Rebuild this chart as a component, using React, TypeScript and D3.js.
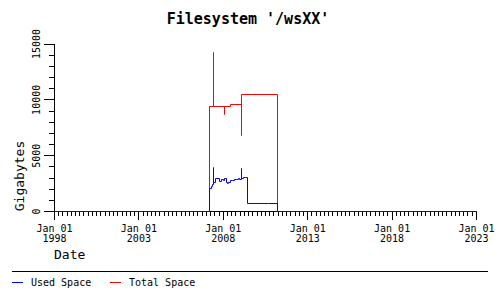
import React from "react";
import * as d3 from "d3";

const usedDates = [
  "1998-01-01", "2007-03-06", "2007-04-12", "2007-05-05", "2007-06-03", "2007-06-12",
  "2007-07-20", "2007-10-04", "2007-11-28", "2007-12-28", "2008-01-26", "2008-03-03",
  "2008-04-05", "2008-04-27", "2008-05-29", "2008-07-12", "2008-08-25", "2008-10-05",
  "2008-11-18", "2008-12-20", "2009-01-22", "2009-01-30", "2009-03-18", "2009-04-20",
  "2009-06-17", "2010-09-05", "2010-09-12", "2011-03-17", "2023-01-01",
];
const usedValues = [
  0, 2050, 2200, 2450, 3950, 2630,
  2930, 2720, 2870, 2780, 2930, 2630,
  2510, 2600, 2750, 2780, 2870, 2900,
  2950, 2900, 3860, 2960, 3050, 3080,
  680, 760, 680, 0, 0,
];

const totalDates = [
  "1998-01-01", "2007-03-06", "2007-06-03", "2007-06-12", "2008-01-26", "2008-02-03",
  "2008-05-29", "2009-01-22", "2009-01-30", "2011-03-17", "2023-01-01",
];
const totalValues = [0, 9430, 14200, 9430, 8700, 9430, 9610, 6790, 10520, 0, 0];

const yTicks = [0, 5000, 10000, 15000];
const xTickYears = [1998, 2003, 2008, 2013, 2018, 2023];

const title = "Filesystem '/wsXX'";
const yLabel = "Gigabytes";
const xLabel = "Date";
const seriesNames = ["Used Space", "Total Space"];
const seriesColors = ["#0000ff", "#ff0000"];

const FONT = "'DejaVu Sans Mono', 'Liberation Mono', monospace";

export default function App() {
  const parse = d3.timeParse("%Y-%m-%d");
  const x = d3
    .scaleTime()
    .domain([new Date(1998, 0, 1), new Date(2023, 0, 1)])
    .range([54.5, 476.5]);
  const y = d3.scaleLinear().domain([0, 15000]).range([211.5, 44]);
  const px = (v: number) => Math.round(v - 0.5) + 0.5;

  const line = d3
    .line<[Date, number]>()
    .x((d) => px(x(d[0])))
    .y((d) => px(y(d[1])))
    .curve(d3.curveStepAfter);

  const used: [Date, number][] = usedDates.map((d, i) => [parse(d)!, usedValues[i]]);
  const total: [Date, number][] = totalDates.map((d, i) => [parse(d)!, totalValues[i]]);

  const minorY = d3.range(0, 15001, 1000);
  const quarters = d3.timeMonth.every(3)!.range(new Date(1998, 0, 1), new Date(2023, 0, 2));

  return (
    <svg
      width={500}
      height={300}
      style={{ position: "absolute", left: 0, top: 0, background: "#fff" }}
      fontFamily={FONT}
    >
      <rect x={0} y={0} width={500} height={300} fill="#fff" />
      <text x={248} y={24} textAnchor="middle" fontSize={15} fontWeight="bold">
        {title}
      </text>

      {/* axes */}
      <g shapeRendering="crispEdges" stroke="#000">
        <line x1={54.5} x2={54.5} y1={y(15000)} y2={y(0)} />
        {minorY.map((v) => (
          <line key={v} x1={v % 5000 === 0 ? 44 : 49} x2={54.5} y1={px(y(v))} y2={px(y(v))} />
        ))}
        <line x1={54} x2={x(new Date(2023, 0, 1))} y1={211.5} y2={211.5} />
        {quarters.map((d, i) => {
          const major = d.getMonth() === 0 && (d.getFullYear() - 1998) % 5 === 0;
          const xx = px(x(d));
          return <line key={i} x1={xx} x2={xx} y1={211.5} y2={major ? 220 : 216} />;
        })}
      </g>
      {yTicks.map((v) => (
        <text
          key={v}
          transform={`translate(40,${y(v)}) rotate(-90)`}
          textAnchor="middle"
          fontSize={10}
        >
          {v}
        </text>
      ))}
      {xTickYears.map((yr) => {
        const xx = x(new Date(yr, 0, 1));
        return (
          <g key={yr} fontSize={10} textAnchor="middle">
            <text x={xx} y={231.5}>Jan 01</text>
            <text x={xx} y={242}>{yr}</text>
          </g>
        );
      })}
      <text transform="translate(24,176) rotate(-90)" textAnchor="middle" fontSize={13}>
        {yLabel}
      </text>
      <text x={54} y={259} fontSize={13}>
        {xLabel}
      </text>

      {/* series */}
      <g fill="none" strokeWidth={1}>
        <path d={line(total) ?? ""} stroke={seriesColors[1]} />
        <path d={line(used) ?? ""} stroke={seriesColors[0]} />
      </g>

      {/* legend */}
      <line x1={12} x2={488} y1={271.5} y2={271.5} stroke="#000" shapeRendering="crispEdges" />
      {seriesNames.map((n, i) => (
        <g key={n}>
          <line
            x1={12 + i * 98}
            x2={23 + i * 98}
            y1={282.5}
            y2={282.5}
            stroke={seriesColors[i]}
            shapeRendering="crispEdges"
          />
          <text x={31 + i * 98} y={286} fontSize={10}>
            {n}
          </text>
        </g>
      ))}
    </svg>
  );
}
